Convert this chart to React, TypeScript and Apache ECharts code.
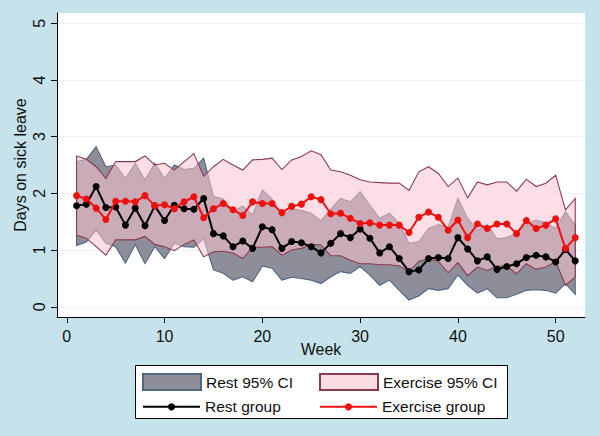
import React, { useEffect, useRef } from 'react';
import * as echarts from 'echarts';

const weeks = [1, 2, 3, 4, 5, 6, 7, 8, 9, 10, 11, 12, 13, 14, 15, 16, 17, 18, 19, 20, 21, 22, 23, 24, 25, 26,
  27, 28, 29, 30, 31, 32, 33, 34, 35, 36, 37, 38, 39, 40, 41, 42, 43, 44, 45, 46, 47, 48, 49, 50, 51, 52];

const restMean = [1.78, 1.81, 2.12, 1.75, 1.76, 1.44, 1.74, 1.43, 1.78, 1.52,
  1.79, 1.73, 1.72, 1.91, 1.29, 1.25, 1.06, 1.16, 1.03, 1.41,
  1.36, 1.03, 1.15, 1.13, 1.06, 0.95, 1.12, 1.29, 1.22, 1.37,
  1.21, 0.95, 1.06, 0.85, 0.62, 0.65, 0.85, 0.87, 0.85, 1.22,
  1.02, 0.81, 0.88, 0.66, 0.71, 0.76, 0.87, 0.91, 0.88, 0.79,
  1.01, 0.81];

const restUpper = [2.56, 2.6, 2.82, 2.47, 2.5, 2.26, 2.53, 2.24, 2.53, 2.26,
  2.5, 2.42, 2.44, 2.62, 1.95, 1.9, 1.68, 1.78, 1.62, 2.06,
  1.9, 1.6, 1.72, 1.7, 1.65, 1.52, 1.72, 1.91, 1.85, 2.03,
  1.79, 1.56, 1.65, 1.47, 1.12, 1.15, 1.38, 1.45, 1.4, 1.91,
  1.56, 1.35, 1.45, 1.2, 1.22, 1.3, 1.45, 1.53, 1.48, 1.38,
  1.68, 1.44];

const restLower = [1.08, 1.14, 1.35, 1.12, 1.06, 0.77, 1.1, 0.76, 1.06, 0.85,
  1.12, 1.06, 1.05, 1.2, 0.65, 0.59, 0.47, 0.53, 0.44, 0.72,
  0.68, 0.47, 0.52, 0.5, 0.47, 0.41, 0.53, 0.62, 0.59, 0.71,
  0.56, 0.38, 0.47, 0.29, 0.12, 0.19, 0.32, 0.29, 0.32, 0.56,
  0.38, 0.24, 0.32, 0.16, 0.16, 0.22, 0.29, 0.3, 0.29, 0.24,
  0.41, 0.22];

const exMean = [1.96, 1.9, 1.74, 1.54, 1.86, 1.86, 1.85, 1.96, 1.78, 1.8,
  1.73, 1.85, 1.94, 1.57, 1.73, 1.82, 1.71, 1.61, 1.85, 1.82,
  1.82, 1.66, 1.77, 1.81, 1.94, 1.89, 1.64, 1.65, 1.56, 1.47,
  1.48, 1.44, 1.44, 1.44, 1.31, 1.58, 1.67, 1.58, 1.35, 1.53,
  1.22, 1.46, 1.38, 1.46, 1.46, 1.29, 1.52, 1.38, 1.44, 1.55,
  1.03, 1.22];

const exUpper = [2.66, 2.6, 2.47, 2.26, 2.56, 2.56, 2.56, 2.66, 2.5, 2.53,
  2.41, 2.56, 2.7, 2.3, 2.47, 2.6, 2.5, 2.41, 2.59, 2.6,
  2.62, 2.42, 2.59, 2.65, 2.75, 2.68, 2.41, 2.38, 2.32, 2.24,
  2.2, 2.19, 2.18, 2.18, 2.05, 2.38, 2.47, 2.35, 2.12, 2.27,
  1.92, 2.2, 2.15, 2.2, 2.2, 2.04, 2.25, 2.12, 2.18, 2.32,
  1.71, 1.91];

const exLower = [1.26, 1.21, 1.06, 0.91, 1.18, 1.18, 1.18, 1.24, 1.1, 1.06,
  0.99, 1.1, 1.18, 0.88, 0.97, 0.98, 0.95, 0.85, 1.05, 1.05,
  1.06, 0.91, 1.0, 1.03, 1.1, 1.09, 0.9, 0.9, 0.82, 0.76,
  0.76, 0.74, 0.74, 0.72, 0.62, 0.8, 0.85, 0.8, 0.6, 0.78,
  0.55, 0.7, 0.64, 0.72, 0.72, 0.58, 0.76, 0.66, 0.7, 0.8,
  0.38, 0.52];

const xTicks = [0, 10, 20, 30, 40, 50];
const yTicks = [0, 1, 2, 3, 4, 5];

export default function App() {
  const ref = useRef<HTMLDivElement>(null);
  useEffect(() => {
    const chart = echarts.init(ref.current as HTMLDivElement, null, { renderer: 'svg' });
    const font = 'Liberation Sans, Arial, Helvetica, sans-serif';
    const textColor = '#111';
    const fs = 16;

    const band = (name: string, lo: number[], hi: number[], fill: string, stroke: string, legendFill: string, z: number) => ({
      type: 'custom',
      name,
      data: weeks.map((w, i) => [w, lo[i], hi[i]]),
      encode: { x: 0, y: [1, 2] },
      itemStyle: { color: legendFill, borderColor: stroke, borderWidth: 1 },
      silent: true,
      z,
      renderItem: (params: any, api: any) => {
        if (params.dataIndex !== 0) return null;
        const pts: number[][] = [];
        for (let i = 0; i < weeks.length; i++) pts.push(api.coord([weeks[i], hi[i]]));
        for (let i = weeks.length - 1; i >= 0; i--) pts.push(api.coord([weeks[i], lo[i]]));
        return {
          type: 'polygon',
          shape: { points: pts },
          style: { fill, stroke, lineWidth: 1.1 },
        };
      },
    });

    const legendText = { fontSize: 15.5, color: textColor, fontFamily: font };

    chart.setOption({
      animation: false,
      backgroundColor: '#C6E3EB',
      textStyle: { fontFamily: font },
      grid: { left: 57, right: 15, top: 13, bottom: 119, containLabel: false, outerBoundsMode: 'none', backgroundColor: '#fff', show: true, borderWidth: 0 },
      xAxis: {
        type: 'value',
        min: -1,
        max: 53,
        name: 'Week',
        nameLocation: 'middle',
        nameGap: 24,
        nameMoveOverlap: false,
        nameTextStyle: { fontSize: fs, color: textColor, fontFamily: font },
        axisLine: { show: true, onZero: false, lineStyle: { color: '#000', width: 1 } },
        axisTick: { show: true, length: 6, customValues: xTicks, lineStyle: { color: '#000' } },
        axisLabel: { customValues: xTicks, fontSize: fs, color: textColor, margin: 11, fontFamily: font },
        splitLine: { show: false },
      },
      yAxis: {
        type: 'value',
        min: -0.18,
        max: 5.18,
        name: 'Days on sick leave',
        nameLocation: 'middle',
        nameGap: 29,
        nameMoveOverlap: false,
        nameTextStyle: { fontSize: fs, color: textColor, fontFamily: font },
        axisLine: { show: true, onZero: false, lineStyle: { color: '#000', width: 1 } },
        axisTick: { show: true, length: 6, customValues: yTicks, lineStyle: { color: '#000' } },
        axisLabel: { customValues: yTicks, rotate: 90, fontSize: fs, color: textColor, margin: 10, fontFamily: font },
        splitLine: { show: true, lineStyle: { color: '#EEF4F6', width: 1 } },
      },
      graphic: [
        {
          type: 'rect',
          z: 0,
          shape: { x: 135.5, y: 365.5, width: 372, height: 53 },
          style: { fill: '#fff', stroke: '#000', lineWidth: 1 },
        },
      ],
      legend: [
        { data: [{ name: 'Rest 95% CI', icon: 'rect' }], left: 142, top: 373, itemWidth: 58, itemHeight: 16, padding: 0, selectedMode: false, textStyle: legendText, z: 10 },
        { data: [{ name: 'Exercise 95% CI', icon: 'rect' }], left: 319, top: 373, itemWidth: 58, itemHeight: 16, padding: 0, selectedMode: false, textStyle: legendText, z: 10 },
        { data: ['Rest group'], left: 142, top: 398.8, itemWidth: 57, itemHeight: 9, padding: 0, selectedMode: false, textStyle: legendText, z: 10 },
        { data: ['Exercise group'], left: 319, top: 398.8, itemWidth: 57, itemHeight: 9, padding: 0, selectedMode: false, textStyle: legendText, z: 10 },
      ],
      series: [
        band('Rest 95% CI', restLower, restUpper, '#8E8E9A', '#4E6680', '#8E8E9A', 1),
        band('Exercise 95% CI', exLower, exUpper, 'rgba(250,196,209,0.55)', '#8C3A50', '#FCDDE3', 2),
        {
          type: 'line',
          name: 'Rest group',
          data: weeks.map((w, i) => [w, restMean[i]]),
          symbol: 'circle',
          symbolSize: 7,
          itemStyle: { color: '#000' },
          lineStyle: { color: '#000', width: 2 },
          z: 3,
        },
        {
          type: 'line',
          name: 'Exercise group',
          data: weeks.map((w, i) => [w, exMean[i]]),
          symbol: 'circle',
          symbolSize: 7,
          itemStyle: { color: '#F01010' },
          lineStyle: { color: '#F01010', width: 2 },
          z: 4,
        },
      ],
    });
    return () => chart.dispose();
  }, []);
  return <div ref={ref} style={{ position: 'fixed', left: 0, top: 0, width: 600, height: 436 }} />;
}
